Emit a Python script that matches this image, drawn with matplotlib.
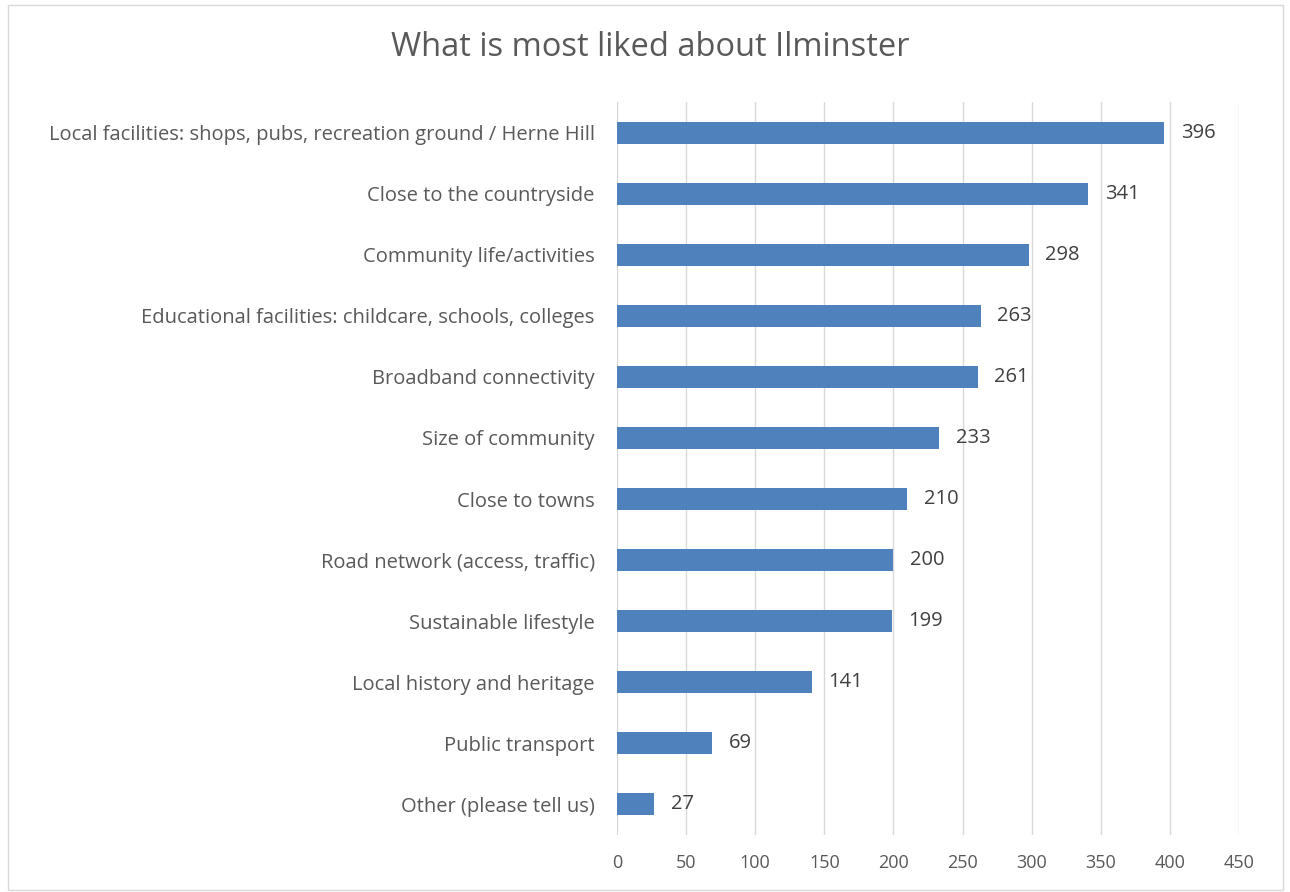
import matplotlib.pyplot as plt
from matplotlib.patches import Rectangle

plt.rcParams['font.family'] = ['Open Sans', 'DejaVu Sans']

# 数据
categories = ['Local facilities: shops, pubs, recreation ground / Herne Hill',
              'Close to the countryside',
              'Community life/activities',
              'Educational facilities: childcare, schools, colleges',
              'Broadband connectivity',
              'Size of community',
              'Close to towns',
              'Road network (access, traffic)',
              'Sustainable lifestyle',
              'Local history and heritage',
              'Public transport',
              'Other (please tell us)']
counts = [396, 341, 298, 263, 261, 233, 210, 200, 199, 141, 69, 27]
xticks = [0, 50, 100, 150, 200, 250, 300, 350, 400, 450]

text_color = '#595959'
grid_color = '#D9D9D9'
bar_color = '#4F81BD'

fig = plt.figure(figsize=(12.9, 8.92), dpi=100)
ax = fig.add_axes([617 / 1290, 1 - 835 / 892, 622 / 1290, 733 / 892])

y = list(range(len(categories)))
ax.barh(y, counts, height=0.36, color=bar_color, zorder=3)
ax.set_ylim(len(categories) - 0.5, -0.5)
ax.set_xlim(0, 450)
ax.set_yticks(y)
ax.set_yticklabels(categories, fontsize=14.5, color=text_color)
ax.set_xticks(xticks)
ax.set_xticklabels([str(t) for t in xticks], fontsize=13, color=text_color)
ax.tick_params(axis='both', length=0)
ax.tick_params(axis='y', pad=16)
ax.tick_params(axis='x', pad=14)
ax.grid(axis='x', color=grid_color, linewidth=1, zorder=0)
for s in ax.spines.values():
    s.set_visible(False)

# 数据标签
for yi, v in zip(y, counts):
    ax.text(v + 12, yi, str(v), va='center', ha='left', fontsize=14.5,
            color='#404040', zorder=4)

fig.text(650 / 1290, 1 - 47 / 892, 'What is most liked about Ilminster',
         ha='center', va='center', fontsize=23.5, color=text_color)

# 外框
fig.patches.append(Rectangle((8 / 1290, 1 - 890 / 892), 1275 / 1290, 885 / 892,
                             transform=fig.transFigure, fill=False,
                             edgecolor=grid_color, linewidth=1))

fig.savefig('out.png', dpi=100)
